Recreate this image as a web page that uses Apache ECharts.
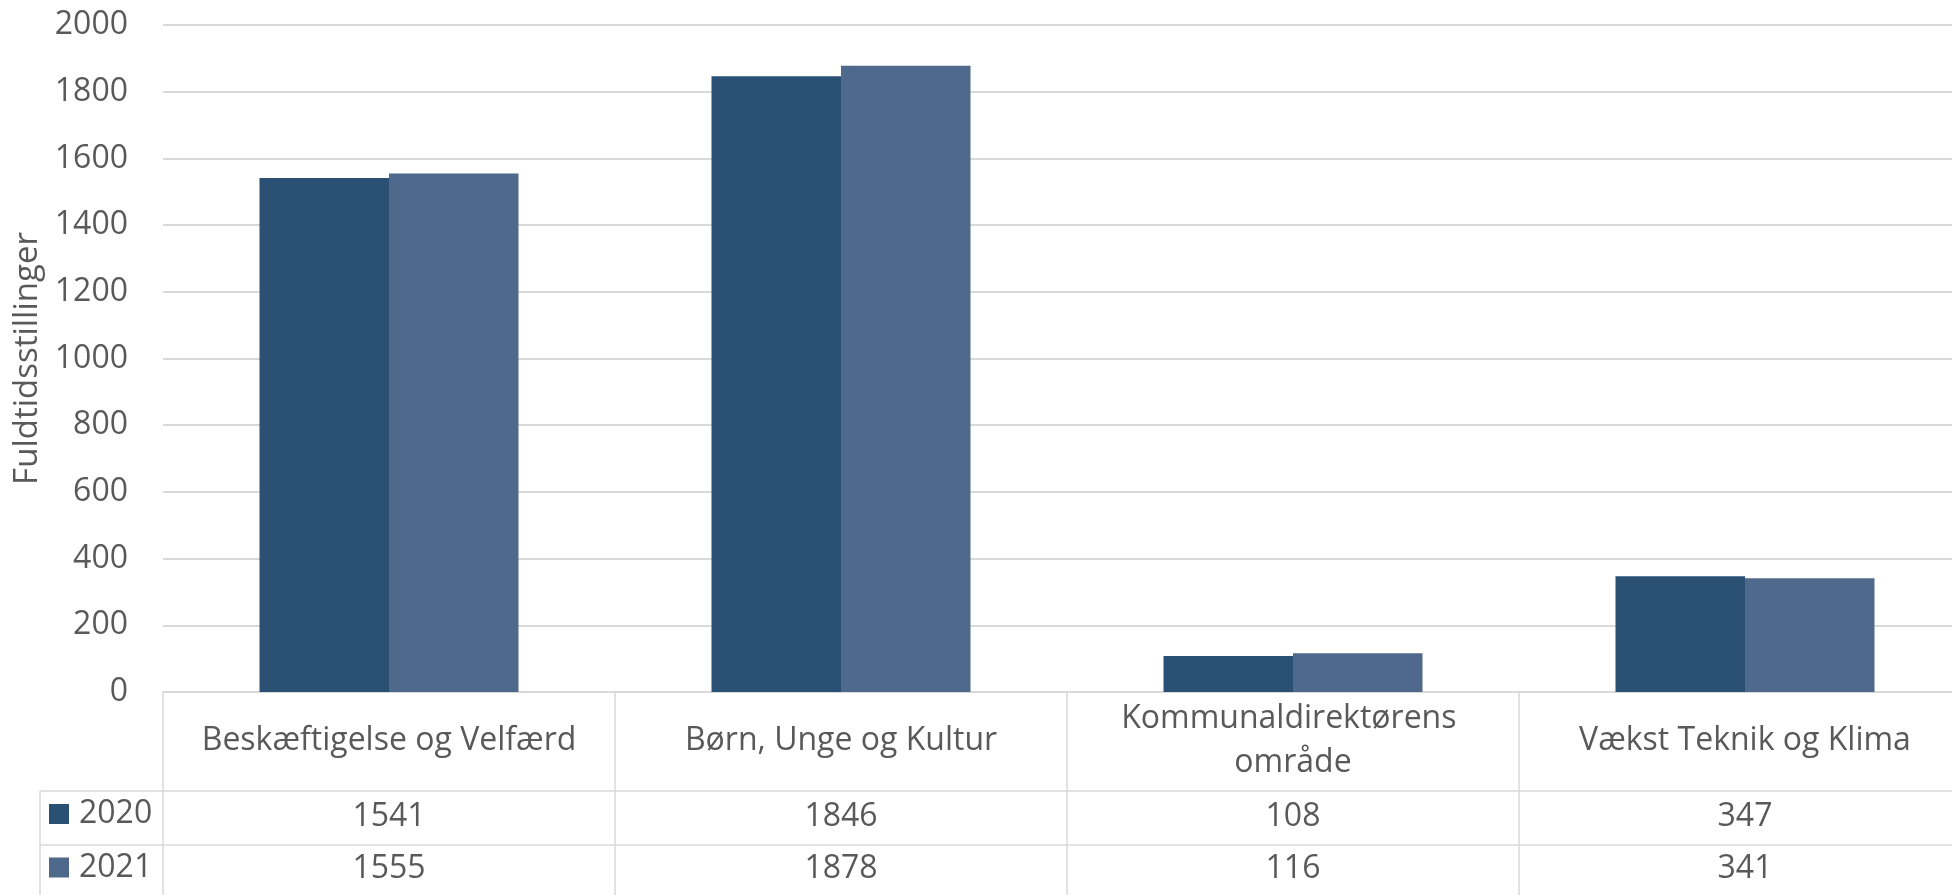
<!DOCTYPE html>
<html>
<head>
<meta charset="utf-8">
<script src="https://cdn.jsdelivr.net/npm/echarts@6/dist/echarts.min.js"></script>
<style>
  html, body { margin: 0; padding: 0; background: #fff; }
  #chart { width: 1952px; height: 895px; }
</style>
</head>
<body>
<div id="chart"></div>
<script>
const categories = ['Beskæftigelse og Velfærd', 'Børn, Unge og Kultur', 'Kommunaldirektørens område', 'Vækst Teknik og Klima'];
const seriesNames = ['2020', '2021'];
const values2020 = [1541, 1846, 108, 347];
const values2021 = [1555, 1878, 116, 341];
const colors = ['#2a5074', '#4e698c'];

const FONT = 'Open Sans';
const TXT = '#595959';
const LINE = '#d9d9d9';

const chart = echarts.init(document.getElementById('chart'));

// table rows under the plot are extra category axes that show the values
const tableAxis = (vals, margin) => ({
  type: 'category',
  data: vals.map(String),
  position: 'bottom',
  axisLine: { show: false },
  axisTick: { show: false },
  axisLabel: {
    interval: 0, margin: margin, fontFamily: FONT, fontSize: 32, color: TXT,
    verticalAlign: 'middle', lineHeight: 32
  }
});

chart.setOption({
  animation: false,
  color: colors,
  // plot runs past the right edge, like the cropped original
  grid: { left: 163, width: 1808, top: 25, bottom: 203, outerBoundsMode: 'none', containLabel: false },
  legend: {
    orient: 'vertical',
    left: 49,
    top: 798,
    padding: 0,
    data: seriesNames,
    icon: 'rect',
    itemWidth: 20,
    itemHeight: 20,
    itemGap: 21.5,
    textStyle: { fontFamily: FONT, fontSize: 32, color: TXT, lineHeight: 32, padding: [0, 0, 0, 5] }
  },
  xAxis: [
    {
      type: 'category',
      data: categories,
      axisLine: { lineStyle: { color: LINE, width: 2 } },
      axisTick: { show: true, alignWithLabel: false, length: 210, lineStyle: { color: LINE, width: 1.5 } },
      axisLabel: {
        interval: 0, margin: 49, fontFamily: FONT, fontSize: 32, color: TXT,
        verticalAlign: 'middle', lineHeight: 44, width: 420, overflow: 'break', align: 'center'
      }
    },
    tableAxis(values2020, 125),
    tableAxis(values2021, 177)
  ],
  yAxis: {
    type: 'value',
    min: 0,
    max: 2000,
    interval: 200,
    name: 'Fuldtidsstillinger',
    nameLocation: 'middle',
    nameRotate: 90,
    nameGap: 97,
    nameTextStyle: { fontFamily: FONT, fontSize: 33, color: TXT },
    axisLine: { show: false },
    axisTick: { show: false },
    axisLabel: { margin: 35, fontFamily: FONT, fontSize: 32, color: TXT, formatter: v => String(v) },
    splitLine: { lineStyle: { color: LINE, width: 2 } }
  },
  series: [
    { name: seriesNames[0], type: 'bar', data: values2020, barWidth: 129.5, barGap: '0%' },
    { name: seriesNames[1], type: 'bar', data: values2021, barWidth: 129.5, barGap: '0%' }
  ],
  graphic: [
    { type: 'line', shape: { x1: 40, y1: 791, x2: 1952, y2: 791 }, style: { stroke: LINE, lineWidth: 1.5 }, silent: true },
    { type: 'line', shape: { x1: 40, y1: 845, x2: 1952, y2: 845 }, style: { stroke: LINE, lineWidth: 1.5 }, silent: true },
    { type: 'line', shape: { x1: 40, y1: 791, x2: 40, y2: 895 }, style: { stroke: LINE, lineWidth: 1.5 }, silent: true }
  ]
});
</script>
</body>
</html>
